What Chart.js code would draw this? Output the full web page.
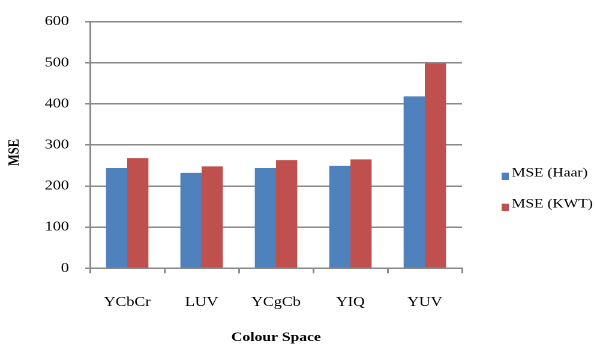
<!DOCTYPE html>
<html>
<head>
<meta charset="utf-8">
<script src="https://cdn.jsdelivr.net/npm/chart.js@4/dist/chart.umd.min.js"></script>
<style>
  html, body { margin: 0; padding: 0; background: #fff; overflow: hidden; }
  /* the chart is laid out on a narrower canvas and widened to fill the page */
  #wrap { position: absolute; left: 0; top: 0; width: 496px; height: 344px;
          transform: scaleX(1.2); transform-origin: 0 0; }
</style>
</head>
<body>
<div id="wrap"><canvas id="c"></canvas></div>
<script>
// MSE per colour space for the two wavelet transforms
const categories = ['YCbCr', 'LUV', 'YCgCb', 'YIQ', 'YUV'];
const mseHaar = [244, 232, 244, 249, 418];
const mseKwt = [268, 248, 263, 265, 498];
const seriesNames = ['MSE (Haar)', 'MSE (KWT)'];
const yMin = 0, yMax = 600, yStep = 100;
const xTitle = 'Colour Space';
const yTitle = 'MSE';

const SERIF = '"Liberation Serif", "Times New Roman", serif';
const GRID = '#8a8a8a';

// rotated y title and the right-hand legend
const extras = {
  id: 'extras',
  afterDraw(chart) {
    const ctx = chart.ctx;
    const area = chart.chartArea;
    ctx.save();
    ctx.fillStyle = '#000';
    ctx.font = 'bold 12.5px ' + SERIF;
    ctx.textAlign = 'center';
    ctx.textBaseline = 'middle';
    ctx.translate(12.5, (area.top + area.bottom) / 2 + 7.5);
    ctx.rotate(-Math.PI / 2);
    ctx.fillText(yTitle, 0, 0);
    ctx.restore();

    ctx.save();
    ctx.font = '12.9px ' + SERIF;
    ctx.textAlign = 'left';
    ctx.textBaseline = 'alphabetic';
    const baseY = [176.7, 207.7];
    chart.data.datasets.forEach((ds, i) => {
      const y = baseY[i];
      ctx.fillStyle = ds.backgroundColor;
      ctx.fillRect(418, y - 4, 6, 7.3);
      ctx.fillStyle = '#000';
      ctx.fillText(ds.label, 426.4, y);
    });
    ctx.restore();
  }
};

new Chart(document.getElementById('c'), {
  type: 'bar',
  data: {
    labels: categories,
    datasets: [
      { label: seriesNames[0], data: mseHaar, backgroundColor: '#4F81BD' },
      { label: seriesNames[1], data: mseKwt, backgroundColor: '#C0504D' }
    ]
  },
  options: {
    responsive: true,
    maintainAspectRatio: false,
    devicePixelRatio: 2,
    animation: false,
    layout: { padding: { top: 19.5, right: 111, bottom: 0, left: 0 } },
    datasets: { bar: { categoryPercentage: 0.57, barPercentage: 1.0 } },
    plugins: { legend: { display: false }, tooltip: { enabled: false } },
    scales: {
      x: {
        grid: { display: true, drawOnChartArea: false, drawTicks: true, tickLength: 5,
                color: GRID, lineWidth: 1.5, offset: true },
        border: { display: true, color: GRID, width: 1.5 },
        ticks: { color: '#000', font: { family: SERIF, size: 13.5 }, padding: 21 },
        title: { display: true, text: xTitle, color: '#000', padding: 0,
                 font: { family: SERIF, size: 13, weight: 'bold', lineHeight: 1 } },
        afterFit(scale) { scale.height = 75.7; }
      },
      y: {
        min: yMin, max: yMax,
        grid: { color: GRID, lineWidth: 1.5, tickLength: 4 },
        border: { display: true, color: GRID, width: 1.5 },
        ticks: { stepSize: yStep, color: '#000', font: { family: SERIF, size: 13.5 }, padding: 13.5 },
        afterFit(scale) { scale.width = 75; }
      }
    }
  },
  plugins: [extras]
});
</script>
</body>
</html>
